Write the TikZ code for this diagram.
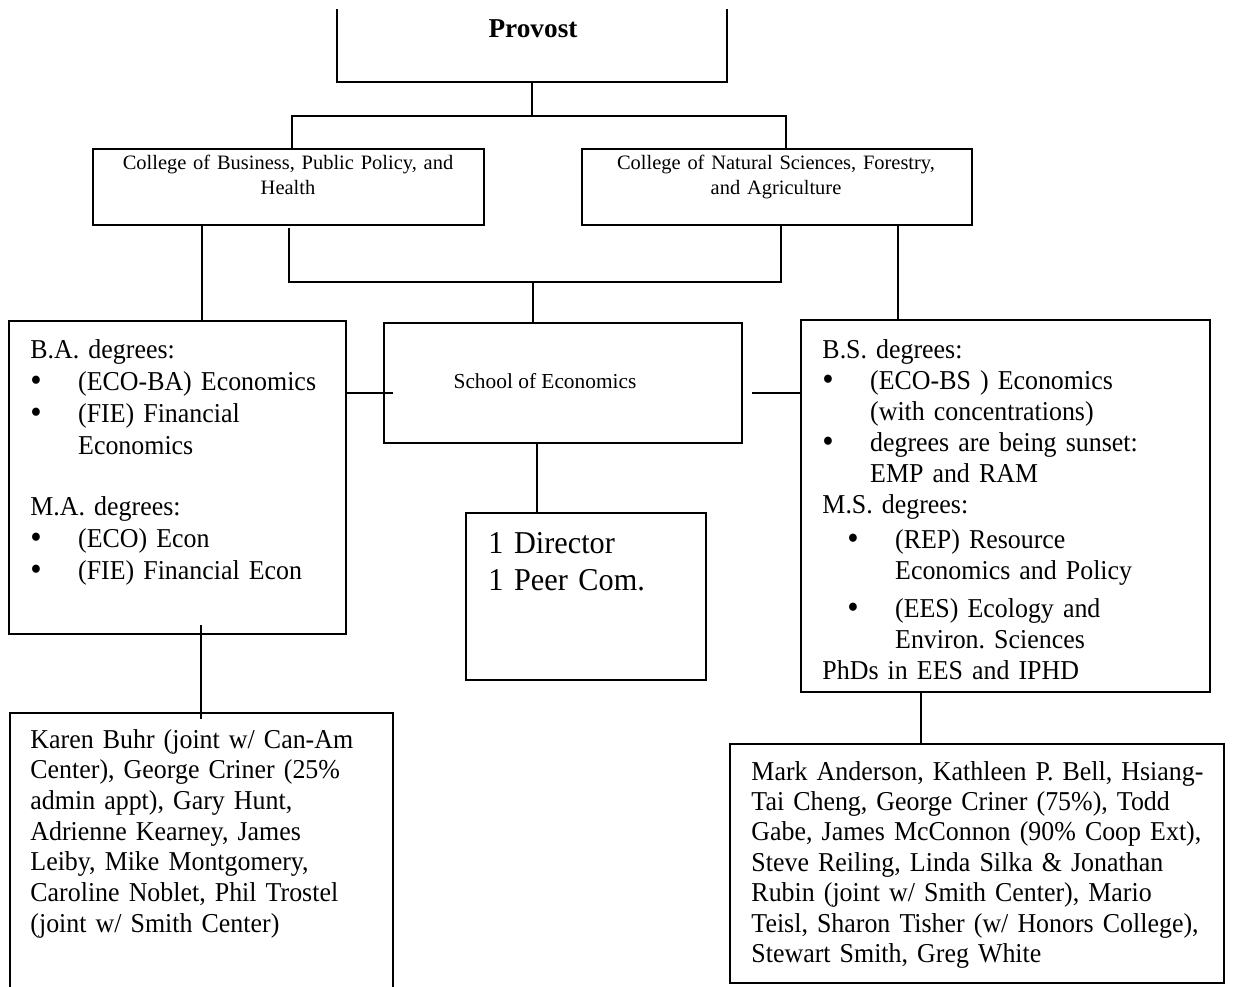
\documentclass[tikz,border=0pt]{standalone}
\usepackage{fontspec}
\setmainfont{Liberation Serif}
\newfontfamily\tnr{Liberation Serif}[FakeStretch=0.95]
\usetikzlibrary{fit}

% bullet item with hanging indent: #1 bullet offset, #2 text indent, #3 text
\newcommand{\degitem}[3]{\par\hangindent=#2\hangafter=1\noindent\makebox[#2][l]{\hspace*{#1}\raisebox{-0.6pt}{\fontsize{15}{15}\selectfont\textbullet}}#3}

\begin{document}
\begin{tikzpicture}[
x=0.44pt, y=-0.44pt,
box/.style = {draw, line width=0.75pt, inner sep=0pt},
txt/.style = {inner sep=0pt, anchor=base west},
coll/.style = {inner sep=0pt, anchor=base, align=center, text width=180pt,
               font=\fontsize{9}{11}\selectfont},
edge/.style = {line width=0.75pt}
]
  \useasboundingbox (0,0) rectangle (1234,986);

  % boxes
  \begin{scope}
    \clip (0,10) rectangle (1234,986);
    \node[box, fit={(337,-40) (727,82)}] (prov) {};
  \end{scope}
  \node[box, fit={(93,149) (484,225)}] (bph) {};
  \node[box, fit={(582,149) (972,225)}] (nsfa) {};
  \node[box, fit={(9,321) (346,634)}] (ba) {};
  \node[box, fit={(384,323) (742,443)}] (school) {};
  \node[box, fit={(801,320) (1210,692)}] (bs) {};
  \node[box, fit={(466,513) (706,680)}] (dir) {};
  \node[box, fit={(10,713) (393,1010)}] (pl) {};
  \node[box, fit={(730,744) (1224,983)}] (pr) {};

  % texts
  \node[inner sep=0pt, anchor=base, font=\bfseries\fontsize{12}{14}\selectfont] (provtxt) at (533,38) {Provost};
  \node[coll] (bphtxt) at (288,170) {College of Business, Public Policy, and\\Health};
  \node[coll] (nsfatxt) at (776,170) {College of Natural Sciences, Forestry,\\and Agriculture};
  \node[inner sep=0pt, anchor=base, font=\fontsize{9.4}{11}\selectfont] (schooltxt) at (545,388) {School of Economics};
  \node[txt, text width=100pt, font=\tnr\fontsize{14}{16.3}\selectfont] (dirtxt) at (488,553) {1 Director\newline 1 Peer Com.};

  \node[txt, text width=150pt, font=\tnr\fontsize{12}{14.08}\selectfont] (batxt) at (30,358) {B.A. degrees:
    \degitem{0pt}{21pt}{(ECO-BA) Economics}
    \degitem{0pt}{21pt}{(FIE) Financial\newline Economics}
    \par\vspace{12.8pt}\noindent M.A. degrees:
    \degitem{0pt}{21pt}{(ECO) Econ}
    \degitem{0pt}{21pt}{(FIE) Financial Econ}};

  \node[txt, text width=180pt, font=\tnr\fontsize{12}{13.7}\selectfont] (bstxt) at (822,358) {B.S. degrees:
    \degitem{0pt}{21pt}{(ECO-BS ) Economics\newline (with concentrations)}
    \degitem{0pt}{21pt}{degrees are being sunset:\newline EMP and RAM}
    \par\noindent M.S. degrees:
    \par\vspace{1.5pt}\degitem{11pt}{32pt}{(REP) Resource\newline Economics and Policy}
    \par\vspace{3pt}\degitem{11pt}{32pt}{(EES) Ecology and\newline Environ.\ Sciences}
    \par\noindent PhDs in EES and IPHD};

  \node[txt, text width=190pt, font=\tnr\fontsize{12}{13.5}\selectfont] (pltxt) at (30,748) {Karen Buhr (joint w/ Can-Am\newline Center), George Criner (25\%\newline admin appt), Gary Hunt,\newline Adrienne Kearney, James\newline Leiby, Mike Montgomery,\newline Caroline Noblet, Phil Trostel\newline (joint w/ Smith Center)};

  \node[txt, text width=240pt, font=\tnr\fontsize{12}{13.4}\selectfont] (prtxt) at (751,780) {Mark Anderson, Kathleen P. Bell, Hsiang-\newline Tai Cheng, George Criner (75\%), Todd\newline Gabe, James McConnon (90\% Coop Ext),\newline Steve Reiling, Linda Silka \& Jonathan\newline Rubin (joint w/ Smith Center), Mario\newline Teisl, Sharon Tisher (w/ Honors College),\newline Stewart Smith, Greg White};

  % connectors
  \coordinate (tl) at (292,116);
  \coordinate (tr) at (786,116);
  \draw[edge] (prov.south) -- (prov.south |- tl);
  \draw[edge] (tl |- bph.north) -- (tl) -- (tr) -- (tr |- nsfa.north);

  \coordinate (ml) at (289,282);
  \coordinate (mr) at (781,282);
  \coordinate (mc) at (533,282);
  \draw[edge] (ml |- bph.south) ++(0,2) -- (ml) -- (mr) -- (mr |- nsfa.south);
  \draw[edge] (mc) -- (mc |- school.north);

  \coordinate (lv) at (202,0);
  \coordinate (rv) at (898,0);
  \draw[edge] (lv |- bph.south) -- (lv |- ba.north);
  \draw[edge] (rv |- nsfa.south) -- (rv |- bs.north);

  \coordinate (hy) at (0,393);
  \draw[edge] (hy -| ba.east) -- (hy -| school.west) -- ++(10,0);
  \draw[edge] (hy -| bs.west) -- ++(-48,0);

  \coordinate (dv) at (537,0);
  \draw[edge] (dv |- school.south) -- (dv |- dir.north);

  \coordinate (lv2) at (201,0);
  \coordinate (rv2) at (921,0);
  \draw[edge] (lv2 |- ba.south) ++(0,-10) -- (lv2 |- pl.north) -- ++(0,7);
  \draw[edge] (rv2 |- bs.south) -- (rv2 |- pr.north);
\end{tikzpicture}
\end{document}
